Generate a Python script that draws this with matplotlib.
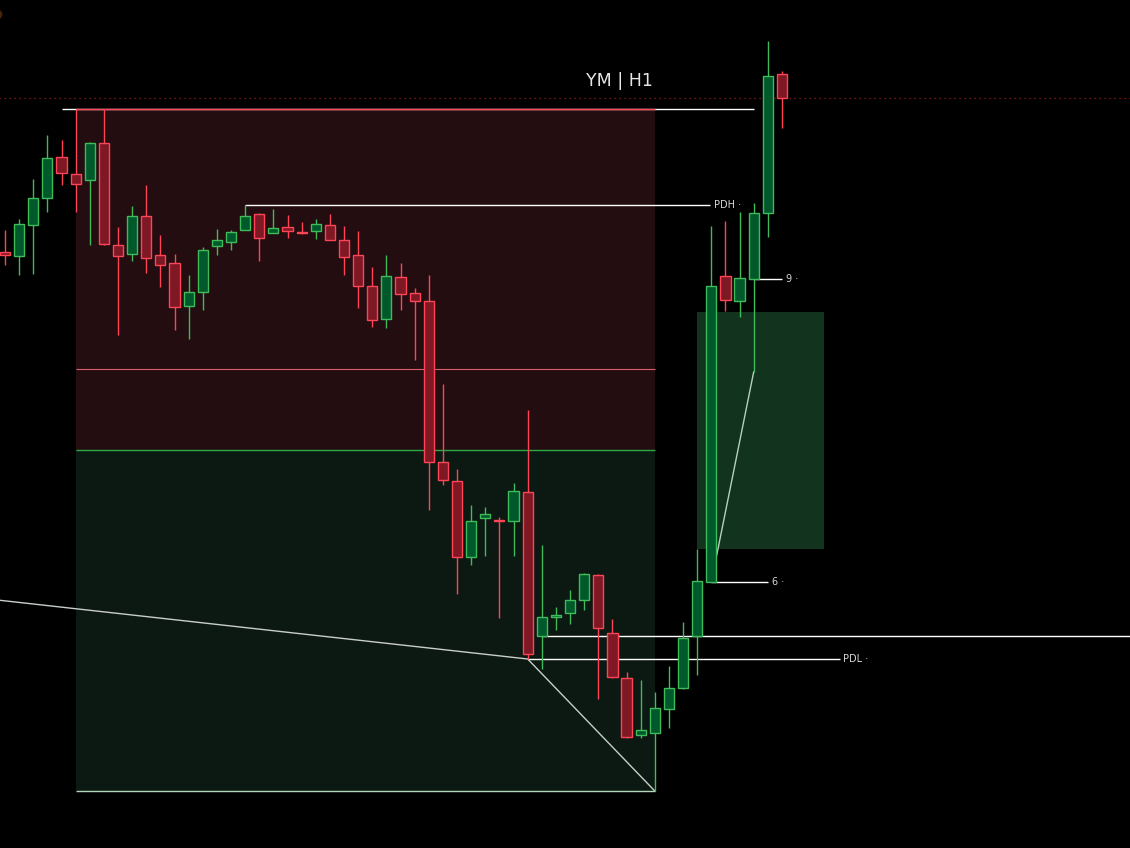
import matplotlib
matplotlib.use("Agg")
import matplotlib.pyplot as plt
from matplotlib.patches import Rectangle

# hourly YM candles, price in chart points (no axis shown)
opens  = [596, 592, 623, 650, 691, 674, 668, 705, 603, 594, 632, 593, 585, 542,
          556, 602, 606, 618, 634, 615, 621, 616, 617, 623, 608, 593, 562, 529,
          571, 555, 547, 386, 367, 291, 330, 328, 327, 356, 212, 231, 235, 248,
          273, 215, 170, 113, 115, 139, 160, 212, 266, 572, 547, 569, 635, 774]
highs  = [618, 629, 669, 713, 708, 739, 706, 739, 621, 642, 663, 613, 594, 573,
          601, 619, 618, 643, 635, 639, 633, 626, 629, 634, 622, 617, 581, 593,
          585, 560, 573, 464, 379, 343, 341, 331, 365, 438, 303, 241, 258, 275,
          274, 229, 176, 168, 156, 182, 226, 299, 622, 627, 636, 645, 807, 777]
lows   = [583, 573, 574, 636, 663, 636, 603, 603, 513, 587, 575, 561, 518, 509,
          538, 593, 598, 618, 587, 615, 610, 614, 609, 608, 573, 540, 521, 520,
          538, 488, 338, 363, 254, 283, 292, 230, 292, 189, 179, 218, 224, 238,
          149, 170, 110, 110, 57, 120, 159, 173, 266, 537, 531, 476, 611, 720]
closes = [593, 624, 650, 690, 675, 664, 705, 604, 592, 632, 590, 583, 541, 556,
          598, 608, 616, 632, 610, 620, 617, 615.5, 624, 608, 591, 562, 528, 572,
          554, 547, 386, 368, 291, 327, 334, 327.5, 357, 194, 231, 233, 248, 274,
          220, 171, 111, 118, 140, 160, 210, 267, 562, 548, 570, 635, 772, 750]

range_high = 739
range_mid = 479
equilibrium = 398
range_low = 57
pdh = 643
pdl = 189
level_212 = 212
last_price = 750
fvg_top, fvg_bottom = 536, 299
swing_lows_a = [(-5, 255), (37, 189), (46, 57)]
swing_lows_b = [(50, 266), (53, 476)]
level_6 = 266
level_9 = 569

up_edge, up_fill = '#3fbb5a', '#00592a'
dn_edge, dn_fill = '#ff4455', '#7e1825'

fig = plt.figure(figsize=(11.3, 8.48), dpi=100, facecolor='black')
ax = fig.add_axes([0, 0, 1, 1])
ax.set_facecolor('black')
ax.set_xlim(-0.354, 79.64)
ax.set_ylim(0, 848)
ax.axis('off')

# premium / discount zones
ax.add_patch(Rectangle((5, equilibrium), 41, range_high - equilibrium,
                       facecolor='#230d10', edgecolor='none', zorder=0))
ax.add_patch(Rectangle((5, range_low), 41, equilibrium - range_low,
                       facecolor='#0c1812', edgecolor='none', zorder=0))
ax.add_patch(Rectangle((49, fvg_bottom), 9, fvg_top - fvg_bottom,
                       facecolor='#12331d', edgecolor='none', zorder=0))

ax.hlines(range_high, 4, 53, color='white', lw=1, zorder=1)
ax.hlines(range_high, 5, 46, color='#ff4455', lw=1, zorder=1.1)
ax.hlines(range_mid, 5, 46, color='#d8606c', lw=0.8, zorder=1)
ax.hlines(equilibrium, 5, 46, color='#2eaa44', lw=1, zorder=1)
ax.hlines(range_low, 5, 46, color='#b0d8b8', lw=1, zorder=1)

ax.hlines(last_price, -1, 80, color='#a01a1a', lw=0.9, linestyles=(0, (1, 3)), zorder=1)

ax.hlines(pdh, 17, 49.9, color='white', lw=1, zorder=1)
ax.hlines(pdl, 37, 59.1, color='white', lw=1, zorder=1)
ax.hlines(level_212, 38, 80, color='white', lw=1, zorder=1)
ax.hlines(level_6, 50, 54, color='white', lw=1, zorder=1)
ax.hlines(level_9, 53, 55, color='white', lw=1, zorder=1)

lbl = dict(color='#d8d8d8', fontsize=7, va='center', ha='left', zorder=5)
ax.text(50.2, pdh, 'PDH ·', **lbl)
ax.text(59.35, pdl, 'PDL ·', **lbl)
ax.text(54.3, level_6, '6 ·', **lbl)
ax.text(55.3, level_9, '9 ·', **lbl)

xa, ya = zip(*swing_lows_a)
ax.plot(xa, ya, color='#c8cfc8', lw=1, zorder=1.5)
xb, yb = zip(*swing_lows_b)
ax.plot(xb, yb, color='#b8d0b8', lw=1, zorder=1.5)

# candles
for i, (o, h, l, c) in enumerate(zip(opens, highs, lows, closes)):
    up = c >= o
    edge = up_edge if up else dn_edge
    fill = up_fill if up else dn_fill
    ax.vlines(i, l, h, color=edge, lw=1, zorder=2)
    bottom = min(o, c)
    height = max(abs(c - o), 0.8)
    ax.add_patch(Rectangle((i - 0.36, bottom), 0.72, height,
                           facecolor=fill, edgecolor=edge, lw=1, zorder=3))

ax.plot([-0.6], [834], marker='o', markersize=6, color='#4a2208', zorder=4)

fig.text(619 / 1130, 1 - 81 / 848, 'YM | H1', color='#e6e6e6', fontsize=12.5,
         ha='center', va='center')

fig.savefig('out.png', dpi=100, facecolor='black')
